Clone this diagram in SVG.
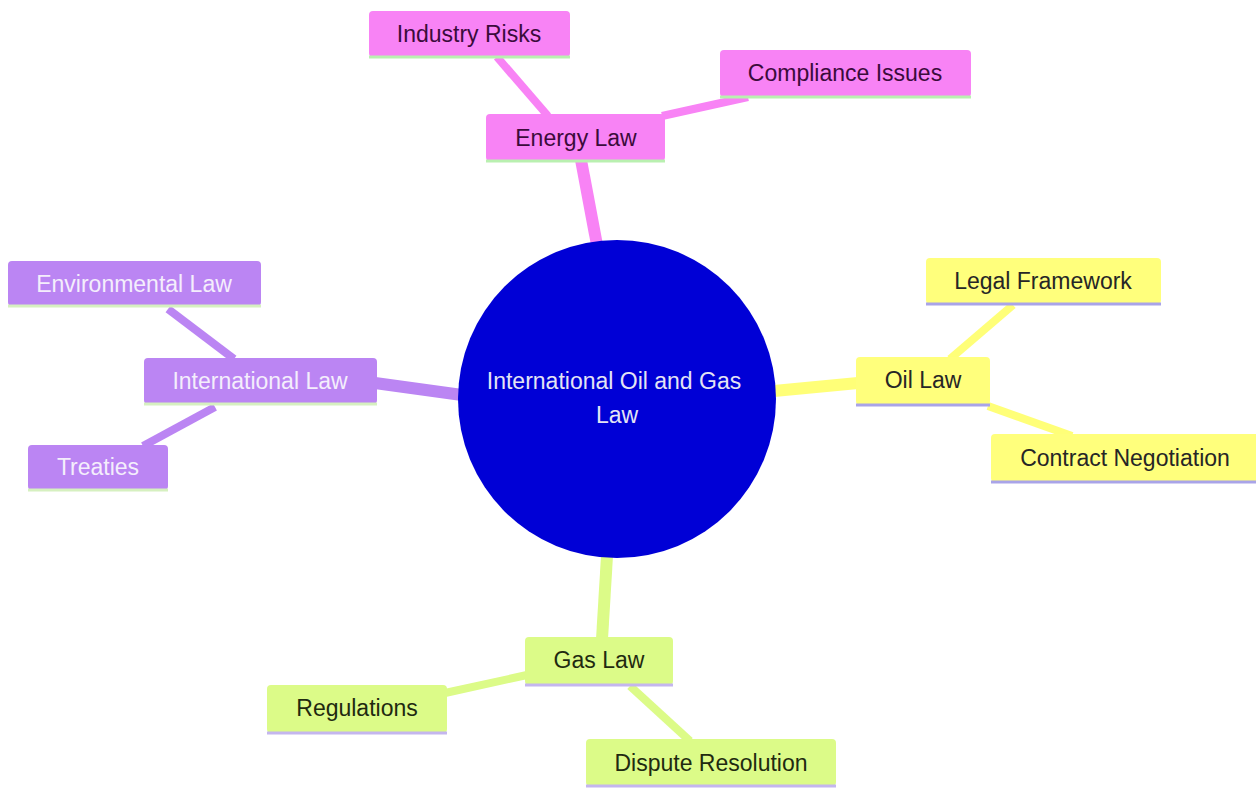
<svg xmlns="http://www.w3.org/2000/svg" width="1256" height="796" viewBox="0 0 1256 796">
<style>
text{font-family:"Liberation Sans",Arial,sans-serif;font-size:23px;text-anchor:middle;dominant-baseline:central}
.pk rect.b{fill:#f883f5}.pk line.u{stroke:#b9f0b0}.pk text{fill:#3b0b3b}
.pu rect.b{fill:#bb85f3}.pu line.u{stroke:#d6f0c0}.pu text{fill:#f4eefc}
.ye rect.b{fill:#ffff7c}.ye line.u{stroke:#a9a4e8}.ye text{fill:#262626}
.gr rect.b{fill:#dcfb88}.gr line.u{stroke:#c4b6ee}.gr text{fill:#1f2a10}
line.u{stroke-width:3}
#edges line{stroke-linecap:butt}
.e1{stroke-width:12}.e2{stroke-width:8}
.epk{stroke:#f883f5}.epu{stroke:#bb85f3}.eye{stroke:#ffff78}.egr{stroke:#dcfb88}
</style>
<rect width="1256" height="796" fill="#ffffff"/>
<g id="edges">
<line class="e1 epk" x1="597" y1="245" x2="581" y2="160"/>
<line class="e2 epk" x1="548" y1="116" x2="497" y2="57"/>
<line class="e2 epk" x1="662" y1="116" x2="748" y2="97"/>
<line class="e1 eye" x1="774" y1="391" x2="858" y2="383"/>
<line class="e2 eye" x1="950" y1="359" x2="1013" y2="305"/>
<line class="e2 eye" x1="988" y1="406" x2="1072" y2="436"/>
<line class="e1 epu" x1="375" y1="383" x2="462" y2="395"/>
<line class="e2 epu" x1="168" y1="309" x2="234" y2="359"/>
<line class="e2 epu" x1="143" y1="446" x2="215" y2="407"/>
<line class="e1 egr" x1="607" y1="556" x2="602" y2="639"/>
<line class="e2 egr" x1="445" y1="693" x2="527" y2="675"/>
<line class="e2 egr" x1="630" y1="686" x2="690" y2="741"/>
</g>
<g id="root">
<circle cx="617" cy="399" r="159" fill="#0000d6"/>
<text x="614" y="381" fill="#e4e4f4">International Oil and Gas</text>
<text x="617" y="415" fill="#e4e4f4">Law</text>
</g>
<g id="energy-law" class="pk">
<rect class="b" x="486" y="114" width="179" height="47" rx="4"/>
<line class="u" x1="486" y1="161" x2="665" y2="161"/>
<text x="576" y="138">Energy Law</text>
</g>
<g id="industry-risks" class="pk">
<rect class="b" x="369" y="11" width="201" height="46" rx="4"/>
<line class="u" x1="369" y1="57" x2="570" y2="57"/>
<text x="469" y="34">Industry Risks</text>
</g>
<g id="compliance-issues" class="pk">
<rect class="b" x="720" y="50" width="251" height="47" rx="4"/>
<line class="u" x1="720" y1="97" x2="971" y2="97"/>
<text x="845" y="73">Compliance Issues</text>
</g>
<g id="oil-law" class="ye">
<rect class="b" x="856" y="357" width="134" height="48" rx="4"/>
<line class="u" x1="856" y1="405" x2="990" y2="405"/>
<text x="923" y="380">Oil Law</text>
</g>
<g id="legal-framework" class="ye">
<rect class="b" x="926" y="258" width="235" height="46" rx="4"/>
<line class="u" x1="926" y1="304" x2="1161" y2="304"/>
<text x="1043" y="281">Legal Framework</text>
</g>
<g id="contract-negotiation" class="ye">
<rect class="b" x="991" y="434" width="270" height="48" rx="4"/>
<line class="u" x1="991" y1="482" x2="1256" y2="482"/>
<text x="1125" y="458">Contract Negotiation</text>
</g>
<g id="international-law" class="pu">
<rect class="b" x="144" y="358" width="233" height="46" rx="4"/>
<line class="u" x1="144" y1="404" x2="377" y2="404"/>
<text x="260" y="381">International Law</text>
</g>
<g id="environmental-law" class="pu">
<rect class="b" x="8" y="261" width="253" height="45" rx="4"/>
<line class="u" x1="8" y1="306" x2="261" y2="306"/>
<text x="134" y="284">Environmental Law</text>
</g>
<g id="treaties" class="pu">
<rect class="b" x="28" y="445" width="140" height="45" rx="4"/>
<line class="u" x1="28" y1="490" x2="168" y2="490"/>
<text x="98" y="467">Treaties</text>
</g>
<g id="gas-law" class="gr">
<rect class="b" x="525" y="637" width="148" height="48" rx="4"/>
<line class="u" x1="525" y1="685" x2="673" y2="685"/>
<text x="599" y="660">Gas Law</text>
</g>
<g id="regulations" class="gr">
<rect class="b" x="267" y="685" width="180" height="48" rx="4"/>
<line class="u" x1="267" y1="733" x2="447" y2="733"/>
<text x="357" y="708">Regulations</text>
</g>
<g id="dispute-resolution" class="gr">
<rect class="b" x="586" y="739" width="250" height="47" rx="4"/>
<line class="u" x1="586" y1="786" x2="836" y2="786"/>
<text x="711" y="763">Dispute Resolution</text>
</g>
</svg>
